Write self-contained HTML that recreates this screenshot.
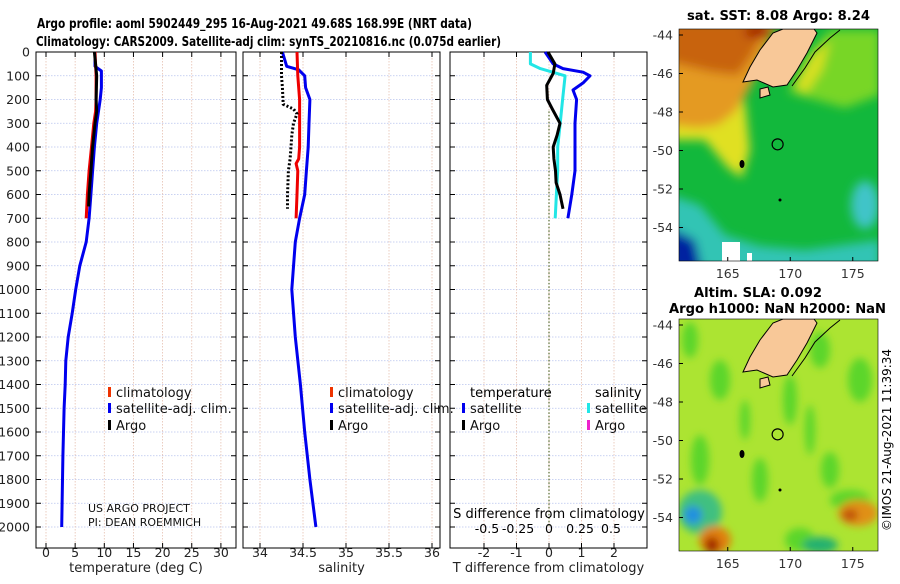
<!DOCTYPE html>
<html><head><meta charset="utf-8"><style>
body{margin:0;background:#fff;width:900px;height:580px;overflow:hidden;font-family:"DejaVu Sans","Liberation Sans",sans-serif}
svg text{font-family:"DejaVu Sans","Liberation Sans",sans-serif}
</style></head><body>
<svg id="c" width="900" height="580" viewBox="0 0 900 580" xmlns="http://www.w3.org/2000/svg">
<defs>
<filter id="bl" x="-20%" y="-20%" width="140%" height="140%"><feGaussianBlur stdDeviation="5"/></filter>
<filter id="bl2" x="-20%" y="-20%" width="140%" height="140%"><feGaussianBlur stdDeviation="4"/></filter>
<clipPath id="cm1"><rect x="679" y="29" width="199" height="232"/></clipPath>
<clipPath id="cm2"><rect x="679" y="319" width="199" height="232"/></clipPath>
</defs>
<text x="37" y="28" font-size="13" font-weight="bold" textLength="435" lengthAdjust="spacingAndGlyphs">Argo profile: aoml 5902449_295 16-Aug-2021 49.68S 168.99E (NRT data)</text>
<text x="36" y="46" font-size="13" font-weight="bold" textLength="465" lengthAdjust="spacingAndGlyphs">Climatology: CARS2009. Satellite-adj clim: synTS_20210816.nc (0.075d earlier)</text>
<g id="panels"></g>
<g id="maps"></g>
<text transform="translate(891,440) rotate(-90)" text-anchor="middle" font-size="12">©IMOS 21-Aug-2021 11:39:34</text>
</svg>
<script>
// ---- data ----
const depthTicks=[0,100,200,300,400,500,600,700,800,900,1000,1100,1200,1300,1400,1500,1600,1700,1800,1900,2000];
const tempTicks=[0,5,10,15,20,25,30];
const salTicks=[34,34.5,35,35.5,36];
const salTickLabels=["34","34.5","35","35.5","36"];
const tdiffTicks=[-2,-1,0,1,2];
const sdiffTicks=[-0.5,-0.25,0,0.25,0.5];
const sdiffLabels=["-0.5","-0.25","0","0.25","0.5"];
// temperature profiles
const satTempDepth=[0,60,80,150,200,300,400,500,600,700,800,900,1000,1100,1200,1300,1400,1500,1700,2000];
const satTemp=[8.4,8.4,9.5,9.5,9.3,8.7,8.3,8.0,7.7,7.4,6.9,5.8,5.1,4.5,3.8,3.4,3.3,3.1,2.9,2.7];
const climTempDepth=[0,100,200,250,300,400,500,600,700];
const climTemp=[8.4,8.6,8.6,8.5,8.2,7.8,7.4,7.1,6.9];
const argoTempDepth=[0,100,200,250,300,400,500,600,650];
const argoTemp=[8.3,8.7,8.6,8.7,8.4,8.0,7.7,7.4,7.3];
// salinity profiles
const climSalDepth=[0,100,200,300,400,450,470,500,600,700];
const climSal=[34.43,34.44,34.46,34.46,34.46,34.45,34.42,34.44,34.43,34.42];
const satSalDepth=[0,60,75,100,150,200,300,400,500,600,700,800,1000,1200,1400,1600,1800,2000];
const satSal=[34.26,34.31,34.45,34.52,34.53,34.58,34.57,34.56,34.54,34.52,34.46,34.41,34.37,34.41,34.47,34.52,34.58,34.65];
const argoSalDepth=[0,100,150,220,240,260,300,350,400,450,500,600,660];
const argoSal=[34.25,34.25,34.26,34.27,34.39,34.43,34.39,34.37,34.36,34.35,34.33,34.32,34.32];
// differences
const tSatDiffDepth=[0,50,70,85,100,130,160,200,300,400,500,600,700];
const tSatDiff=[-0.12,0.13,0.43,1.05,1.26,1.05,0.74,0.85,0.8,0.8,0.8,0.7,0.58];
const sSatDiffDepth=[0,50,70,100,200,300,400,500,600,700];
const sSatDiff=[-0.15,-0.15,-0.07,0.13,0.11,0.09,0.07,0.07,0.06,0.05];
const tArgoDiffDepth=[0,50,90,140,200,240,300,350,400,450,500,550,600,660];
const tArgoDiff=[-0.03,0.18,0.13,-0.07,-0.05,0.1,0.34,0.25,0.13,0.15,0.2,0.22,0.34,0.43];
// map ticks
const latTicks=[-44,-46,-48,-50,-52,-54];
const lonTicks=[165,170,175];
const floatLon=[168.99];
const floatLat=[-49.68];

const NS="http://www.w3.org/2000/svg";
function mk(tag,attrs,parent,txt){const e=document.createElementNS(NS,tag);for(const k in attrs)e.setAttribute(k,attrs[k]);if(txt!==undefined)e.textContent=txt;parent.appendChild(e);return e;}
const yD=d=>52+d*0.2375;
const PT=52,PB=548;
const P=document.getElementById('panels');

function panel(name,x0,x1,xf,ticks,labels,xtitle){
  const g=mk('g',{},P);
  
  
  depthTicks.forEach(d=>{const l=mk('line',{x1:x0,x2:x1,y1:yD(d),y2:yD(d),stroke:'#b8c4ee','stroke-width':0.8,'stroke-dasharray':'1.5,1.5'},g);
    
    mk('line',{x1:x0,x2:x0+5,y1:yD(d),y2:yD(d),stroke:'#000'},g);mk('line',{x1:x1-5,x2:x1,y1:yD(d),y2:yD(d),stroke:'#000'},g);});
  ticks.forEach((t,i)=>{const x=xf(t);const l=mk('line',{x1:x,x2:x,y1:PT,y2:PB,stroke:'#e6c0b0','stroke-width':0.8,'stroke-dasharray':'1.5,1.5'},g);
    
    mk('line',{x1:x,x2:x,y1:PB-5,y2:PB,stroke:'#000'},g);mk('line',{x1:x,x2:x,y1:PT,y2:PT+5,stroke:'#000'},g);
    const tx=mk('text',{x:x,y:557,'text-anchor':'middle','font-size':12.5,fill:'#222'},g,labels[i]);
    });
  const r=mk('rect',{x:x0,y:PT,width:x1-x0,height:PB-PT,fill:'none',stroke:'#000','stroke-width':1},g);
  
  const tt=mk('text',{x:(x0+x1)/2,y:572,'text-anchor':'middle','font-size':13,fill:'#222'},g,xtitle);
  
  return g;
}
function line(g,xs,ds,xf,color,name,dash){
  const pts=xs.map((v,i)=>xf(v).toFixed(1)+','+yD(ds[i]).toFixed(1)).join(' ');
  const a={points:pts,fill:'none',stroke:color,'stroke-width':3,'stroke-linejoin':'round'};
  if(dash)a['stroke-dasharray']=dash;
  const p=mk('polyline',a,g);
  
  
}
function legend(g,x,y,color,label,name){
  mk('rect',{x:x,y:y-10,width:3,height:10,fill:color},g);
  const t=mk('text',{x:x+8,y:y,'font-size':13,fill:'#111'},g,label);
  
}
// temperature
const xT=t=>46+t*5.83;
const g1=panel('temperature-panel',36,236,xT,tempTicks,tempTicks.map(String),'temperature (deg C)');
depthTicks.forEach(d=>{const t=mk('text',{x:30,y:yD(d)+4.5,'text-anchor':'end','font-size':12.5,fill:'#222'},g1,String(d));});
line(g1,satTemp,satTempDepth,xT,'#0000ee','temp-satellite-clim-line');
line(g1,climTemp,climTempDepth,xT,'#ee0000','temp-climatology-line');
line(g1,argoTemp,argoTempDepth,xT,'#000','temp-argo-line');
legend(g1,108,397,'#ee3300','climatology','legend-climatology');
legend(g1,108,413,'#0000ee','satellite-adj. clim.','legend-satellite');
legend(g1,108,430,'#000','Argo','legend-argo');
const n1=mk('text',{x:88,y:512,'font-size':11,fill:'#111'},g1,'US ARGO PROJECT');
const n2=mk('text',{x:88,y:526,'font-size':11,fill:'#111'},g1,'PI: DEAN ROEMMICH');
// salinity
const xS=s=>260+(s-34)*86;
const g2=panel('salinity-panel',243,440,xS,salTicks,salTickLabels,'salinity');
line(g2,satSal,satSalDepth,xS,'#0000ee','sal-satellite-clim-line');
line(g2,climSal,climSalDepth,xS,'#ee0000','sal-climatology-line');
line(g2,argoSal,argoSalDepth,xS,'#000','sal-argo-line','2,2');
legend(g2,330,397,'#ee3300','climatology','legend-climatology-sal');
legend(g2,330,413,'#0000ee','satellite-adj. clim.','legend-satellite-sal');
legend(g2,330,430,'#000','Argo','legend-argo-sal');
// differences
const xTD=t=>549+t*32.5, xSD=s=>549+s*124;
const g3=panel('difference-panel',450,647,xTD,tdiffTicks,tdiffTicks.map(String),'T difference from climatology');
const zl=mk('line',{x1:xTD(0),x2:xTD(0),y1:yD(250),y2:yD(2000),stroke:'#556b2f','stroke-width':1.2,'stroke-dasharray':'1.5,2'},g3);

line(g3,tSatDiff,tSatDiffDepth,xTD,'#0000ee','tdiff-satellite-line');
line(g3,sSatDiff,sSatDiffDepth,xSD,'#22e6e6','sdiff-satellite-line');
line(g3,tArgoDiff,tArgoDiffDepth,xTD,'#000','tdiff-argo-line');
const lt=mk('text',{x:470,y:397,'font-size':13},g3,'temperature');
const ls=mk('text',{x:595,y:397,'font-size':13},g3,'salinity');
legend(g3,462,413,'#0000ee','satellite','legend-tdiff-satellite');
legend(g3,462,430,'#000','Argo','legend-tdiff-argo');
legend(g3,587,413,'#22e6e6','satellite','legend-sdiff-satellite');
legend(g3,587,430,'#ee22cc','Argo','legend-sdiff-argo');
const st=mk('text',{x:549,y:518,'text-anchor':'middle','font-size':13},g3,'S difference from climatology');
sdiffTicks.forEach((s,i)=>{const t=mk('text',{x:xSD(s),y:533,'text-anchor':'middle','font-size':12.5},g3,sdiffLabels[i]);});

// ---- maps ----
const M=document.getElementById('maps');
function map(name,top,title1,title2,kind){
  const g=mk('g',{},M);
  
  
  const lonX=l=>679+(l-161.1)*12.5;
  const latY=la=>top+6+(-44-la)*19.25;
  const c=mk('g',{'clip-path':kind==1?'url(#cm1)':'url(#cm2)'},g);
  const dy=top-29;
  if(kind==1){
    mk('rect',{x:679,y:29,width:199,height:232,fill:'#12b83c'},c);
    const b=mk('g',{filter:'url(#bl)'},c);
    mk('polygon',{points:'670,115 720,118 745,100 750,150 742,178 728,168 705,140 670,140',fill:'#e0e020'},b);
    mk('polygon',{points:'670,20 778,20 762,60 748,92 735,112 718,125 698,128 670,125',fill:'#e49a20'},b);
    mk('polygon',{points:'670,20 770,20 752,55 738,75 712,72 670,62',fill:'#c86410'},b);
    mk('ellipse',{cx:758,cy:32,rx:14,ry:6,fill:'#a01800'},b);
    mk('polygon',{points:'788,92 808,55 830,30 880,30 880,95 845,108',fill:'#78d628'},b);
    mk('polygon',{points:'795,85 812,55 830,40 822,70 805,95',fill:'#d8e020'},b);
    mk('polygon',{points:'670,195 700,205 725,235 760,246 805,250 880,240 880,270 670,270',fill:'#30c4b4'},b);
    mk('ellipse',{cx:865,cy:205,rx:14,ry:24,fill:'#40c4c8'},b);
    mk('polygon',{points:'670,228 695,240 702,270 670,270',fill:'#0020a0'},b);
    mk('rect',{x:722,y:242,width:18,height:22,fill:'#fff'},c);
    mk('rect',{x:747,y:253,width:5,height:10,fill:'#fff'},c);
  } else {
    mk('rect',{x:679,y:319,width:199,height:232,fill:'#ace432'},c);
    const b=mk('g',{filter:'url(#bl2)'},c);
    [[690,340,8,18],[720,380,10,20],[790,400,7,25],[820,350,10,18],[860,380,12,22],[700,460,9,25],[760,480,8,22],[830,470,9,18],[800,540,15,12],[850,500,20,10],[745,420,5,20],[810,430,5,25]].forEach(e=>mk('ellipse',{cx:e[0],cy:e[1],rx:e[2],ry:e[3],fill:'#5cd62a'},b));
    mk('ellipse',{cx:700,cy:512,rx:22,ry:22,fill:'#40c080'},b);
    mk('ellipse',{cx:693,cy:515,rx:9,ry:9,fill:'#2090e0'},b);
    mk('ellipse',{cx:715,cy:540,rx:16,ry:14,fill:'#e08010'},b);
    mk('ellipse',{cx:712,cy:545,rx:7,ry:8,fill:'#a02000'},b);
    mk('ellipse',{cx:858,cy:513,rx:20,ry:13,fill:'#e09018'},b);
    mk('ellipse',{cx:850,cy:515,rx:8,ry:6,fill:'#c05010'},b);
    mk('ellipse',{cx:820,cy:545,rx:18,ry:8,fill:'#20b070'},b);
  }
  const land=mk('polygon',{points:[[750,67],[760,50],[773,33],[783,29],[814,29],[817,33],[807,53],[797,70],[787,85],[773,87],[757,80],[743,82]].map(p=>p[0]+','+(p[1]+dy)).join(' '),fill:'#f8c898',stroke:'#000','stroke-width':1},c);
  
  mk('polygon',{points:[[760,89],[768,87],[770,95],[760,98]].map(p=>p[0]+','+(p[1]+dy)).join(' '),fill:'#f8c898',stroke:'#000'},c);
  mk('polyline',{points:[[792,86],[805,68],[815,52],[830,38],[840,30]].map(p=>p[0]+','+(p[1]+dy)).join(' '),fill:'none',stroke:'#000'},c);
  mk('ellipse',{cx:742,cy:164+dy,rx:2.5,ry:4,fill:'#000'},c);
  mk('circle',{cx:780,cy:200+dy,r:1.5,fill:'#000'},c);
  const fp=mk('circle',{cx:lonX(floatLon[0]),cy:latY(floatLat[0]),r:5.5,fill:'none',stroke:'#000','stroke-width':1.2},g);
  
  mk('rect',{x:679,y:top,width:199,height:232,fill:'none',stroke:'#000','stroke-width':0.6},g);
  latTicks.forEach(la=>{const y=latY(la);mk('line',{x1:679,x2:683,y1:y,y2:y,stroke:'#000'},g);
    const t=mk('text',{x:673,y:y+4.5,'text-anchor':'end','font-size':12.5,fill:'#333'},g,String(la));});
  lonTicks.forEach(lo=>{const x=lonX(lo);mk('line',{x1:x,x2:x,y1:top+232,y2:top+228,stroke:'#000'},g);
    const t=mk('text',{x:x,y:top+249,'text-anchor':'middle','font-size':12.5,fill:'#333'},g,String(lo));});
  if(title2){
    const t1=mk('text',{x:694,y:top-22,'font-size':13,'font-weight':'bold',textLength:128,lengthAdjust:'spacingAndGlyphs'},g,title1);
    
    const t2=mk('text',{x:669,y:top-6,'font-size':13,'font-weight':'bold',textLength:217,lengthAdjust:'spacingAndGlyphs'},g,title2);
    
  } else {
    const t1=mk('text',{x:687,y:top-9,'font-size':13,'font-weight':'bold',textLength:183,lengthAdjust:'spacingAndGlyphs'},g,title1);
    
  }
}
map('sst-map',29,'sat. SST: 8.08 Argo: 8.24',null,1);
map('sla-map',319,'Altim. SLA: 0.092','Argo h1000: NaN h2000: NaN',2);
</script>
</body></html>
